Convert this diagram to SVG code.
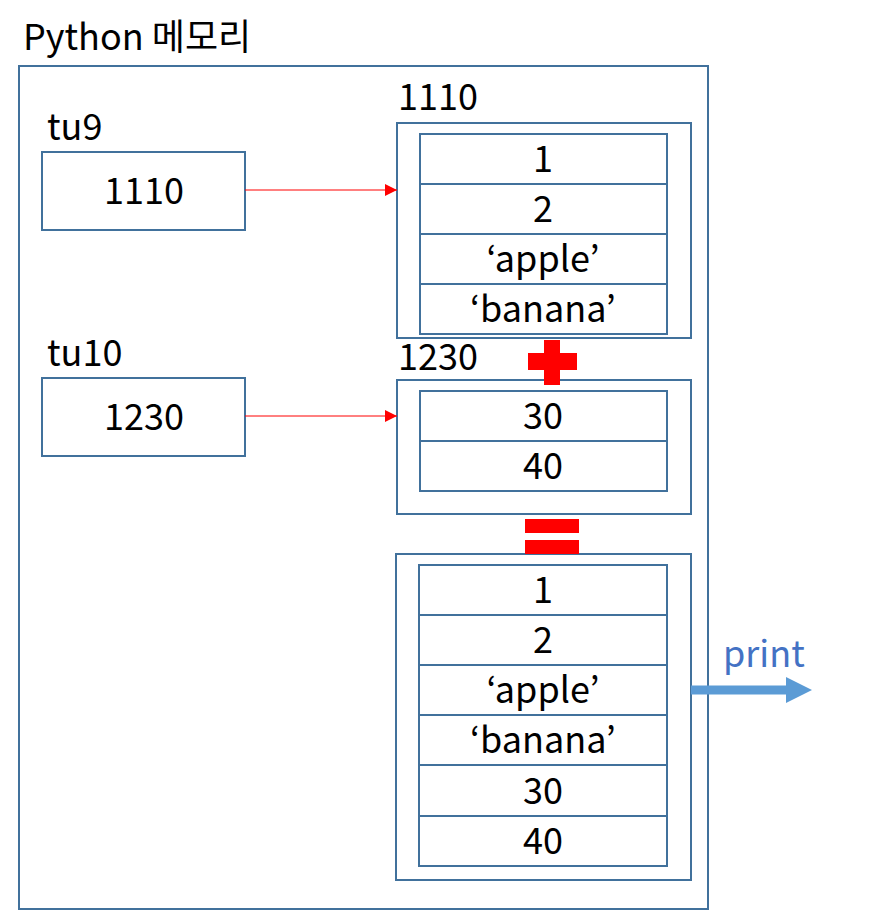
<svg xmlns="http://www.w3.org/2000/svg" width="894" height="910" viewBox="0 0 894 910">
<style>
.b{fill:none;stroke:#41719C;stroke-width:2}
.c{fill:#fff;stroke:#41719C;stroke-width:2}
text{font-family:"Noto Sans CJK KR","Noto Sans",sans-serif;font-size:36px;fill:#000}
.m{text-anchor:middle}
.r{fill:#FF0000}
</style>
<defs>
<marker id="ah" viewBox="0 0 10 10" refX="10" refY="5" markerWidth="12" markerHeight="12" markerUnits="userSpaceOnUse" orient="auto">
<path d="M0,0 L10,5 L0,10 Z" fill="#FF0000"/>
</marker>
</defs>
<rect width="894" height="910" fill="#fff"/>
<g id="memory">
<text x="23" y="50">Python 메모리</text>
<rect class="b" x="19" y="66" width="689" height="843"/>
</g>
<g id="tu9">
<text x="47" y="140">tu9</text>
<rect class="c" x="42" y="152" width="203" height="78"/>
<text class="m" x="144" y="204">1110</text>
</g>
<g id="tu10">
<text x="47" y="366">tu10</text>
<rect class="c" x="42" y="378" width="203" height="78"/>
<text class="m" x="144" y="430">1230</text>
</g>
<g id="tuple1110">
<text x="398" y="110">1110</text>
<rect class="c" x="397" y="123" width="294" height="215"/>
<rect class="c" x="420" y="134" width="247" height="200"/>
<path class="b" d="M420,184H667M420,234H667M420,284H667"/>
<text class="m" x="543" y="172">1</text>
<text class="m" x="543" y="222">2</text>
<text class="m" x="543" y="272">‘apple’</text>
<text class="m" x="543" y="322">‘banana’</text>
</g>
<g id="tuple1230">
<text x="398" y="370">1230</text>
<rect class="c" x="397" y="380" width="294" height="134"/>
<rect class="c" x="420" y="391" width="247" height="100"/>
<path class="b" d="M420,441H667"/>
<text class="m" x="543" y="429">30</text>
<text class="m" x="543" y="479">40</text>
</g>
<g id="result">
<rect class="c" x="396" y="554" width="295" height="326"/>
<rect class="c" x="419" y="565" width="248" height="301"/>
<path class="b" d="M419,615H667M419,665H667M419,715H667M419,765H667M419,816H667"/>
<text class="m" x="543" y="603">1</text>
<text class="m" x="543" y="653">2</text>
<text class="m" x="543" y="703">‘apple’</text>
<text class="m" x="543" y="753">‘banana’</text>
<text class="m" x="543" y="804">30</text>
<text class="m" x="543" y="854">40</text>
</g>
<g id="plus">
<rect class="r" x="528" y="353" width="49" height="17"/>
<rect class="r" x="544" y="340" width="16" height="45"/>
</g>
<g id="equals">
<rect class="r" x="525" y="519" width="54" height="14"/>
<rect class="r" x="525" y="540" width="54" height="14"/>
</g>
<g id="connectors">
<line x1="245" y1="190" x2="397" y2="190" stroke="#FF0000" stroke-width="1" marker-end="url(#ah)"/>
<line x1="245" y1="416" x2="397" y2="416" stroke="#FF0000" stroke-width="1" marker-end="url(#ah)"/>
<path d="M691,685.5H786V677L812,690L786,703V694.5H691Z" fill="#5B9BD5"/>
<text x="723" y="667" style="fill:#4472C4">print</text>
</g>
</svg>
